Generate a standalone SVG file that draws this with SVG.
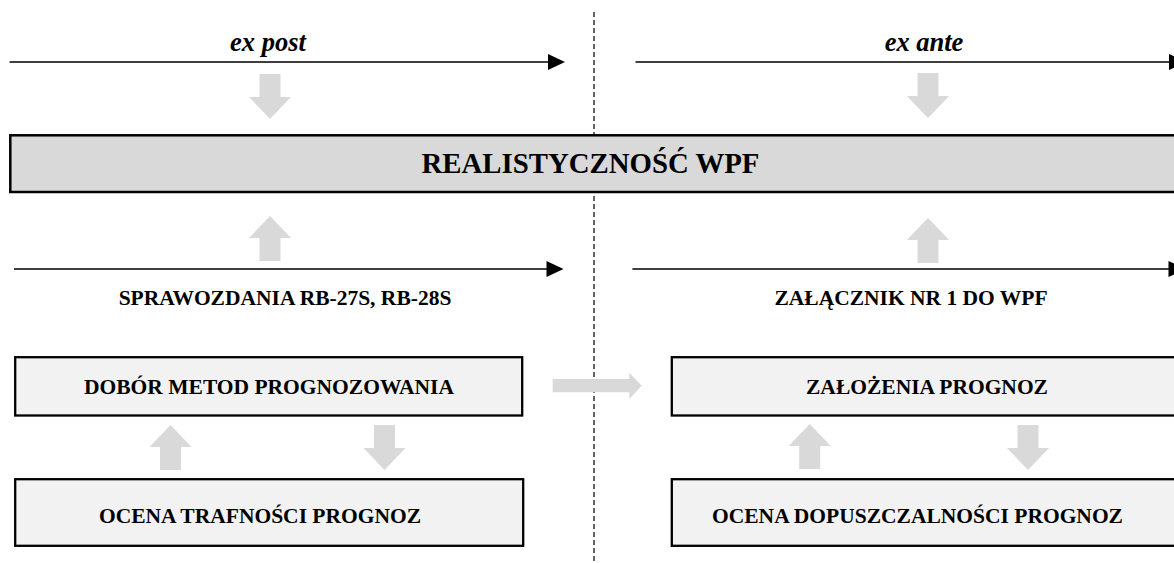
<svg xmlns="http://www.w3.org/2000/svg" width="1174" height="563" viewBox="0 0 1174 563">
  <defs>
    <style>
      .box-main { fill: #d9d9d9; stroke: #000; stroke-width: 2.5; }
      .box { fill: #f2f2f2; stroke: #000; stroke-width: 2.3; }
      .lbl { font-family: "Liberation Serif", "Times New Roman", serif; font-weight: bold; fill: #000; text-anchor: middle; }
      .small { font-size: 21.5px; }
      .title { font-size: 28.8px; }
      .ital { font-size: 26.5px; font-style: italic; }
      .axis { stroke: #000; stroke-width: 1.3; fill: none; }
      .head { fill: #000; }
      .block { fill: #d9d9d9; }
      .divider { stroke: #000; stroke-width: 1.2; stroke-dasharray: 5 3; fill: none; }
    </style>
    <!-- block arrow pointing down: shaft 21 wide, head 42 wide, 45 long, origin at tail centre -->
    <path id="blockDown" d="M-10.5,0 H10.5 V23 H21 L0,45 L-21,23 H-10.5 Z"/>
    <path id="blockUp" d="M-10.5,0 H10.5 V-23 H21 L0,-45 L-21,-23 H-10.5 Z"/>
  </defs>

  <!-- dashed split between past and future -->
  <line class="divider" x1="594" y1="12" x2="594" y2="563"/>

  <!-- time axes -->
  <g id="connectors">
    <line class="axis" x1="9.6" y1="62" x2="549" y2="62"/>
    <path class="head" d="M548,54 L565,62 L548,70 Z"/>
    <line class="axis" x1="635.5" y1="62" x2="1172" y2="62"/>
    <path class="head" d="M1169,54 L1186,62 L1169,70 Z"/>

    <line class="axis" x1="14" y1="269" x2="549" y2="269"/>
    <path class="head" d="M546.5,261 L563.5,269 L546.5,277 Z"/>
    <line class="axis" x1="632.4" y1="269" x2="1172" y2="269"/>
    <path class="head" d="M1168.5,261 L1185.5,269 L1168.5,277 Z"/>

    <!-- grey block arrows -->
    <use href="#blockDown" class="block" x="270" y="74"/>
    <use href="#blockDown" class="block" x="928" y="73"/>
    <use href="#blockUp" class="block" x="270" y="261"/>
    <use href="#blockUp" class="block" x="928" y="263"/>

    <use href="#blockUp" class="block" x="170.5" y="470"/>
    <use href="#blockDown" class="block" x="384.5" y="425"/>
    <use href="#blockUp" class="block" x="809.7" y="469"/>
    <use href="#blockDown" class="block" x="1028" y="425"/>

    <path class="block" d="M552.7,379 H629.3 V372.7 L641.7,385.7 L629.3,399 V392.3 H552.7 Z"/>
  </g>

  <!-- axis captions -->
  <g id="label-ex-post">
    <text class="lbl ital" x="268" y="51">ex post</text>
  </g>
  <g id="label-ex-ante">
    <text class="lbl ital" x="924" y="51">ex ante</text>
  </g>

  <g id="node-realistycznosc">
    <rect class="box-main" x="10.3" y="135.3" width="1180" height="56.7"/>
    <text class="lbl title" x="590.5" y="173">REALISTYCZNOŚĆ WPF</text>
  </g>

  <g id="label-sprawozdania">
    <text class="lbl small" x="285" y="305">SPRAWOZDANIA RB-27S, RB-28S</text>
  </g>
  <g id="label-zalacznik">
    <text class="lbl small" x="911" y="305">ZAŁĄCZNIK NR 1 DO WPF</text>
  </g>

  <g id="node-dobor">
    <rect class="box" x="15.2" y="357.2" width="507" height="58.3"/>
    <text class="lbl small" x="269" y="394">DOBÓR METOD PROGNOZOWANIA</text>
  </g>
  <g id="node-zalozenia">
    <rect class="box" x="671.8" y="357.2" width="520" height="58.3"/>
    <text class="lbl small" x="927" y="394">ZAŁOŻENIA PROGNOZ</text>
  </g>
  <g id="node-ocena-trafnosci">
    <rect class="box" x="15.2" y="479.2" width="508" height="66.6"/>
    <text class="lbl small" x="260" y="523">OCENA TRAFNOŚCI PROGNOZ</text>
  </g>
  <g id="node-ocena-dopuszczalnosci">
    <rect class="box" x="671.8" y="479.2" width="520" height="66.6"/>
    <text class="lbl small" x="917.5" y="523">OCENA DOPUSZCZALNOŚCI PROGNOZ</text>
  </g>
</svg>
